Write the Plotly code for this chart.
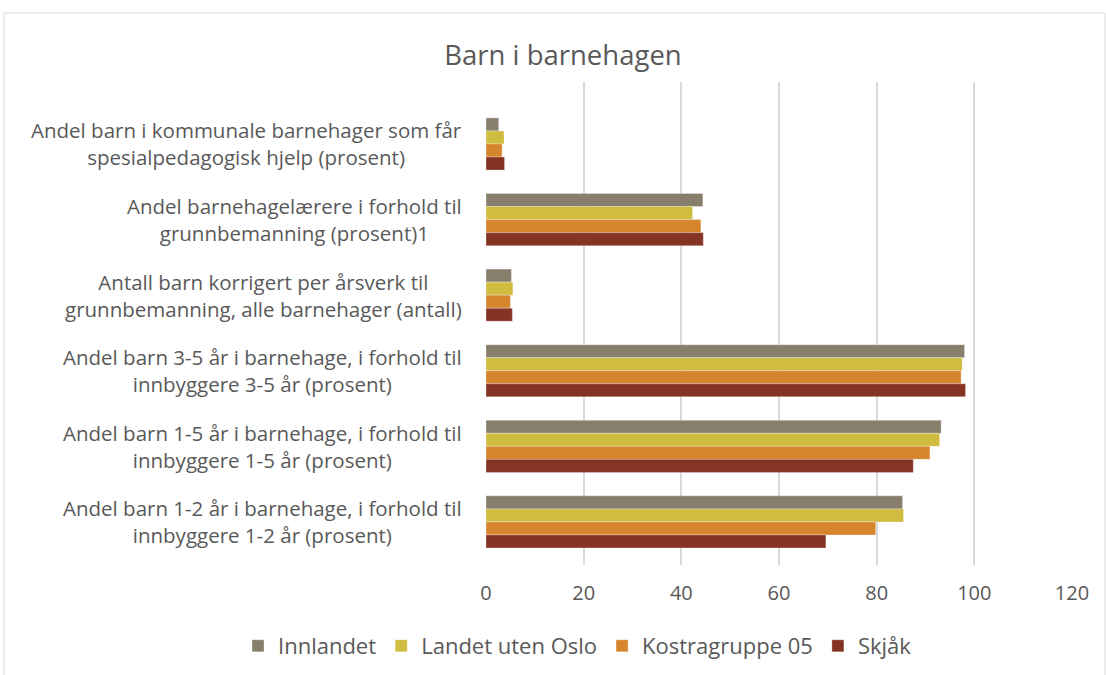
import plotly.graph_objects as go

categories = [
    "Andel barn i kommunale barnehager som får<br>spesialpedagogisk hjelp (prosent)",
    "Andel barnehagelærere i forhold til<br>grunnbemanning (prosent)1",
    "Antall barn korrigert per årsverk til<br>grunnbemanning, alle barnehager (antall)",
    "Andel barn 3-5 år i barnehage, i forhold til<br>innbyggere 3-5 år (prosent)",
    "Andel barn 1-5 år i barnehage, i forhold til<br>innbyggere 1-5 år (prosent)",
    "Andel barn 1-2 år i barnehage, i forhold til<br>innbyggere 1-2 år (prosent)",
]
series_names = ["Innlandet", "Landet uten Oslo", "Kostragruppe 05", "Skjåk"]
innlandet = [2.6, 44.4, 5.2, 98.0, 93.2, 85.3]
landet_uten_oslo = [3.7, 42.3, 5.5, 97.5, 92.9, 85.5]
kostragruppe_05 = [3.3, 44.0, 5.0, 97.3, 90.9, 79.8]
skjak = [3.8, 44.5, 5.4, 98.2, 87.5, 69.6]
colors = ["#877F6C", "#CFBC41", "#D6852D", "#853424"]
x_ticks = [0, 20, 40, 60, 80, 100, 120]

FONT = "Open Sans"
TXT = "#595959"

fig = go.Figure()
for name, vals, col in zip(series_names, [innlandet, landet_uten_oslo, kostragruppe_05, skjak], colors):
    fig.add_trace(go.Bar(
        y=categories, x=vals, name=name, orientation="h",
        marker=dict(color=col, line=dict(color="rgba(255,255,255,0.5)", width=0.6)),
    ))

for c in categories:
    fig.add_annotation(
        x=0, y=c, xref="x", yref="y", text=c, showarrow=False,
        xanchor="right", yanchor="middle", align="center", xshift=-22,
        font=dict(family=FONT, size=20.5, color=TXT),
    )

fig.add_shape(type="rect", xref="paper", yref="paper",
              x0=(4 - 486) / 586, x1=(1105 - 486) / 586,
              y0=(565 - 690) / 483, y1=(565 - 13) / 483,
              line=dict(color="#D9D9D9", width=1), fillcolor="rgba(0,0,0,0)", layer="below")

fig.update_layout(
    width=1106, height=675,
    margin=dict(l=486, r=34, t=82, b=110, autoexpand=False),
    paper_bgcolor="white", plot_bgcolor="white",
    barmode="group", bargap=0.31, bargroupgap=0,
    title=dict(text="Barn i barnehagen", xref="paper", x=(563 - 486) / 586, xanchor="center",
               yref="container", y=1 - 55 / 675, yanchor="middle",
               font=dict(family=FONT, size=27.5, color=TXT)),
    xaxis=dict(range=[0, 120], tickvals=x_ticks, showgrid=True, gridcolor="#D9D9D9", gridwidth=1.5,
               zeroline=False, showline=False, ticks="outside", ticklen=10, tickcolor="rgba(0,0,0,0)",
               tickfont=dict(family=FONT, size=20, color=TXT)),
    yaxis=dict(range=[5.57, -0.82], showticklabels=False, showgrid=False, zeroline=False,
               showline=False, ticks=""),
    legend=dict(orientation="h", xref="paper", x=(238 - 486) / 586, xanchor="left",
                yref="paper", y=(565 - 646) / 483, yanchor="middle",
                font=dict(family=FONT, size=22, color=TXT),
                traceorder="normal"),
    showlegend=True,
)

fig.write_html("out.html", config={"displayModeBar": False},
               post_script="document.body.style.margin='0';")
